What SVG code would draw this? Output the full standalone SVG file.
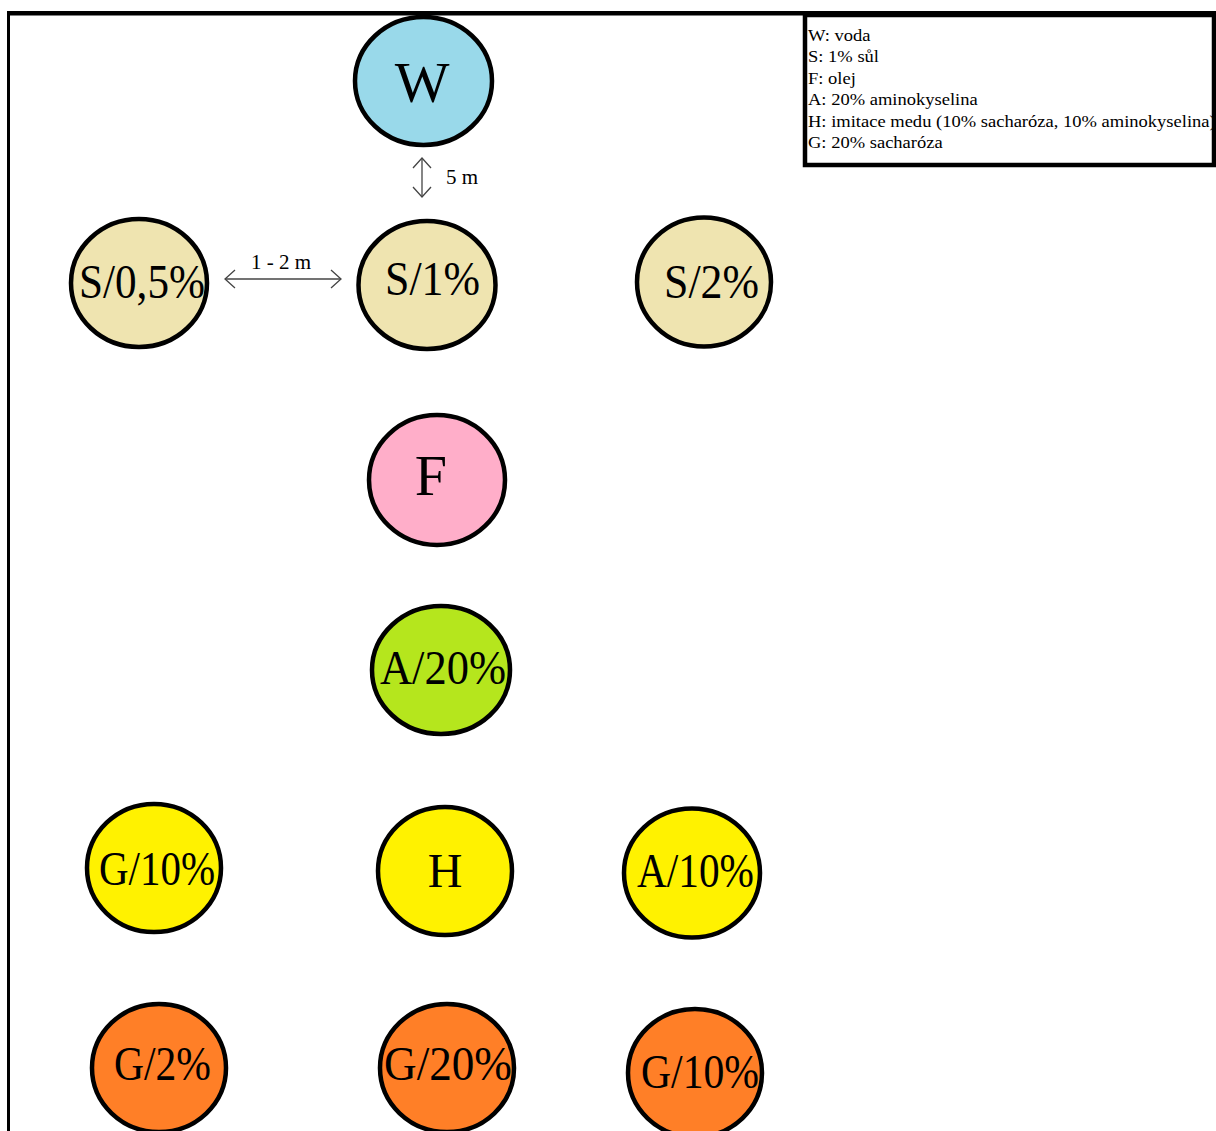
<svg xmlns="http://www.w3.org/2000/svg" width="1216" height="1131" viewBox="0 0 1216 1131">
<defs>
<style>
.n{stroke:#000;stroke-width:4.5}
.lbl{font-family:"Liberation Serif","Times New Roman",serif;font-size:48px;fill:#000}
.big{font-size:58px}
.leg{font-family:"Liberation Serif","Times New Roman",serif;font-size:17px;fill:#000}
.dim{font-family:"Liberation Serif","Times New Roman",serif;font-size:21px;fill:#000}
.arr{stroke:#444;stroke-width:1.3;fill:none}
</style>
<marker id="ah" viewBox="0 0 12 20" refX="11" refY="10" markerWidth="12" markerHeight="20" markerUnits="userSpaceOnUse" orient="auto-start-reverse">
<path d="M1,1 L11,10 L1,19" fill="none" stroke="#444" stroke-width="1.3"/>
</marker>
</defs>
<rect width="1216" height="1131" fill="#fff"/>
<g id="frame">
<rect x="7" y="11" width="1209" height="4.5" fill="#000"/>
<rect x="7" y="11" width="3" height="1120" fill="#000"/>
</g>
<g id="legend">
<rect x="805" y="15" width="409" height="150" fill="#fff" stroke="#000" stroke-width="4.5"/>
<g transform="translate(808,0) scale(1.09,1)">
<text class="leg" x="0" y="41">W: voda</text>
<text class="leg" x="0" y="62.5">S: 1% sůl</text>
<text class="leg" x="0" y="84">F: olej</text>
<text class="leg" x="0" y="105.5">A: 20% aminokyselina</text>
<text class="leg" x="0" y="127">H: imitace medu (10% sacharóza, 10% aminokyselina)</text>
<text class="leg" x="0" y="148.5">G: 20% sacharóza</text>
</g>
</g>
<g id="connectors">
<line class="arr" x1="422" y1="158" x2="422" y2="197" marker-start="url(#ah)" marker-end="url(#ah)"/>
<text class="dim" x="446" y="184">5 m</text>
<line class="arr" x1="225" y1="279" x2="341" y2="279" marker-start="url(#ah)" marker-end="url(#ah)"/>
<text class="dim" x="251" y="269">1 - 2 m</text>
</g>
<g id="node-W">
<ellipse class="n" cx="423.5" cy="81" rx="68.5" ry="64" fill="#99d9ea"/>
<text class="lbl big" x="422" y="102" text-anchor="middle">W</text>
</g>
<g id="node-S05">
<ellipse class="n" cx="139" cy="283" rx="68" ry="64" fill="#efe4b0"/>
<text class="lbl" x="79" y="298" textLength="126" lengthAdjust="spacingAndGlyphs">S/0,5%</text>
</g>
<g id="node-S1">
<ellipse class="n" cx="427" cy="285" rx="68.5" ry="64" fill="#efe4b0"/>
<text class="lbl" x="385" y="295" textLength="95" lengthAdjust="spacingAndGlyphs">S/1%</text>
</g>
<g id="node-S2">
<ellipse class="n" cx="704" cy="282" rx="67" ry="64.5" fill="#efe4b0"/>
<text class="lbl" x="664" y="298" textLength="95" lengthAdjust="spacingAndGlyphs">S/2%</text>
</g>
<g id="node-F">
<ellipse class="n" cx="437" cy="480" rx="68" ry="65" fill="#ffaec9"/>
<text class="lbl big" x="431" y="495" text-anchor="middle">F</text>
</g>
<g id="node-A20">
<ellipse class="n" cx="441" cy="670" rx="69" ry="64" fill="#b5e61d"/>
<text class="lbl" x="380" y="684" textLength="126" lengthAdjust="spacingAndGlyphs">A/20%</text>
</g>
<g id="node-G10a">
<ellipse class="n" cx="154" cy="868" rx="67" ry="64" fill="#fff200"/>
<text class="lbl" x="99" y="885" textLength="116" lengthAdjust="spacingAndGlyphs">G/10%</text>
</g>
<g id="node-H">
<ellipse class="n" cx="445" cy="871" rx="67" ry="64" fill="#fff200"/>
<text class="lbl" x="445" y="887" text-anchor="middle">H</text>
</g>
<g id="node-A10">
<ellipse class="n" cx="692" cy="873" rx="68" ry="64.5" fill="#fff200"/>
<text class="lbl" x="637" y="887" textLength="117" lengthAdjust="spacingAndGlyphs">A/10%</text>
</g>
<g id="node-G2">
<ellipse class="n" cx="159" cy="1068" rx="67" ry="64" fill="#ff7f27"/>
<text class="lbl" x="114" y="1080" textLength="97" lengthAdjust="spacingAndGlyphs">G/2%</text>
</g>
<g id="node-G20">
<ellipse class="n" cx="447" cy="1068" rx="67" ry="64" fill="#ff7f27"/>
<text class="lbl" x="384" y="1080" textLength="128" lengthAdjust="spacingAndGlyphs">G/20%</text>
</g>
<g id="node-G10b">
<ellipse class="n" cx="695" cy="1073" rx="67" ry="64" fill="#ff7f27"/>
<text class="lbl" x="641" y="1088" textLength="118" lengthAdjust="spacingAndGlyphs">G/10%</text>
</g>
</svg>
